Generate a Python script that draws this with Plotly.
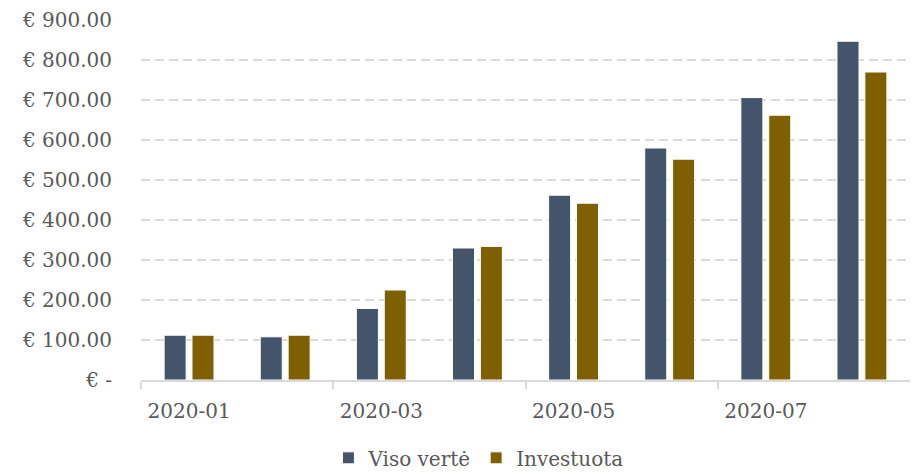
import plotly.graph_objects as go

months = ["2020-01", "2020-02", "2020-03", "2020-04", "2020-05", "2020-06", "2020-07", "2020-08"]
viso_verte = [112, 108, 179, 330, 462, 580, 706, 847]
investuota = [112, 112, 225, 334, 442, 552, 662, 770]
y_ticks = [0, 100, 200, 300, 400, 500, 600, 700, 800, 900]
y_tick_text = ["€ -"] + [f"€ {v:.2f}" for v in y_ticks[1:]]

x_pos = list(range(len(months)))
label_pos = x_pos[::2]
label_text = months[::2]
boundary_pos = [p - 0.5 for p in label_pos]

FONT = "DejaVu Serif"
TEXT = "#595959"
GRID = "#d9d9d9"

fig = go.Figure()
fig.add_trace(go.Bar(x=x_pos, y=viso_verte, name="Viso vertė", customdata=months,
                     marker=dict(color="#44546A", line=dict(color="#ffffff", width=1))))
fig.add_trace(go.Bar(x=x_pos, y=investuota, name="Investuota", customdata=months,
                     marker=dict(color="#7F6000", line=dict(color="#ffffff", width=1))))

fig.update_layout(
    width=913, height=472,
    margin=dict(l=141, r=3, t=20, b=92, autoexpand=False),
    paper_bgcolor="white", plot_bgcolor="white",
    font=dict(family=FONT, size=20, color=TEXT),
    barmode="group", bargap=0.42, bargroupgap=0.21,
    showlegend=True,
    legend=dict(orientation="h", x=0.524, xref="container", xanchor="center",
                y=0.03, yref="container", yanchor="middle",
                font=dict(family=FONT, size=20, color=TEXT),
                traceorder="normal"),
)
fig.update_xaxes(
    range=[-0.5, len(months) - 0.5],
    tickmode="array", tickvals=label_pos, ticktext=label_text,
    ticks="", ticklabelstandoff=12,
    minor=dict(tickmode="array", tickvals=boundary_pos, ticks="outside",
               ticklen=7, tickcolor=GRID, tickwidth=1.5, showgrid=False),
    showline=True, linecolor=GRID, linewidth=1.5,
    showgrid=False, zeroline=False, automargin=False,
)
fig.update_yaxes(
    range=[0, 900], tickmode="array", tickvals=y_ticks, ticktext=y_tick_text,
    showgrid=True, gridcolor=GRID, gridwidth=1.5, griddash="9px,5px",
    zeroline=False, showline=False, ticks="", ticklabelstandoff=28,
    automargin=False,
)
fig.write_html("out.html", config={"displayModeBar": False},
               post_script="document.body.style.margin='0';document.body.style.overflow='hidden';")
